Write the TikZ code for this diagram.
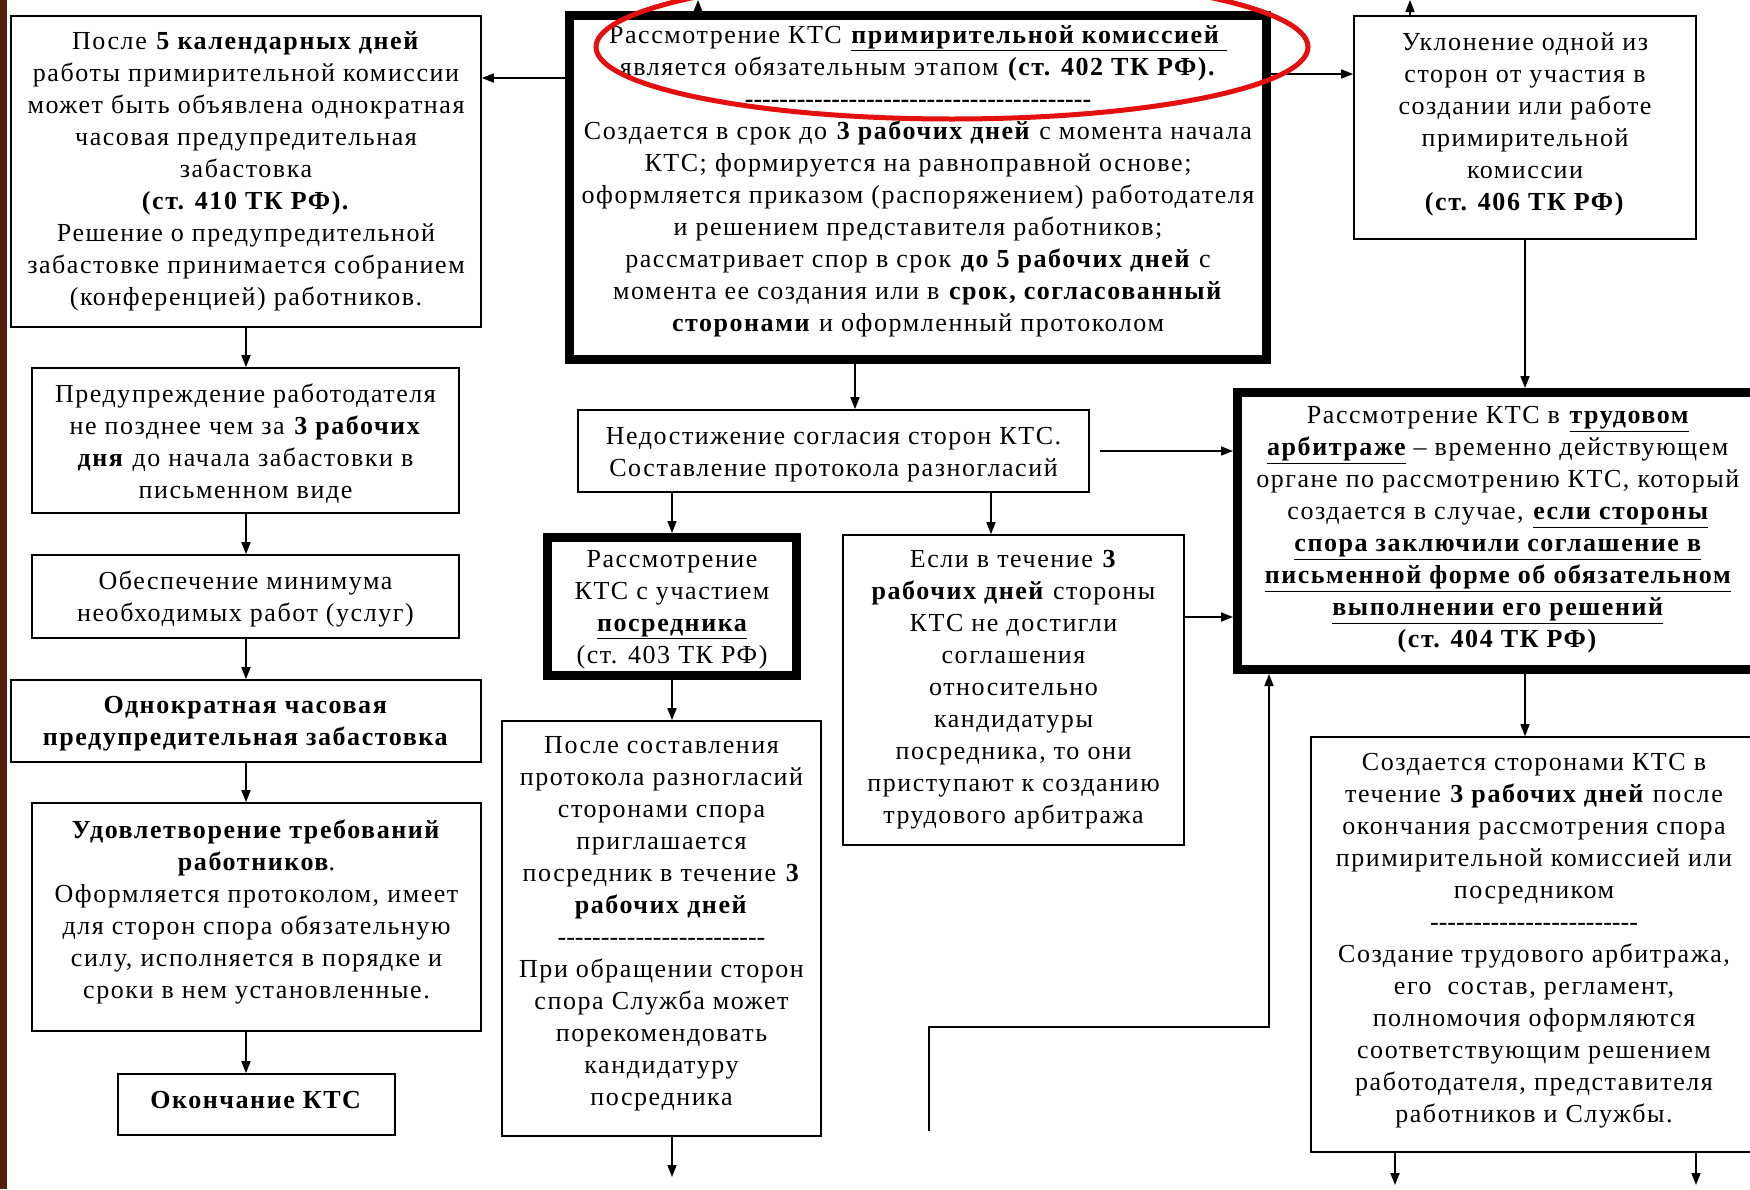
\documentclass[tikz,border=0pt]{standalone}
\usepackage{fontspec}
\setmainfont{Liberation Serif}[LetterSpace=6]
\usetikzlibrary{arrows.meta}
\ExplSyntaxOn
\NewDocumentCommand\hyrow{m}{\prg_replicate:nn{#1}{-\kern0pt}}
\ExplSyntaxOff
\definecolor{stripbrown}{RGB}{85,32,10}
\definecolor{ovalred}{RGB}{228,16,16}
\begin{document}
\begin{tikzpicture}[x=1pt,y=-1pt,
  box/.style={draw, line width=1.6pt, inner sep=0pt},
  thickbox/.style={box, line width=9pt},
  txt/.style={inner sep=0pt, align=center, font=\fontsize{26}{32}\selectfont},
  arr/.style={-{Triangle[length=12pt,width=9pt]}, line width=1.6pt}]
\clip (0,0) rectangle (1750,1189);
\fill[white] (0,0) rectangle (1750,1189);
\fill[stripbrown] (0,0) rectangle (7,1189);

% ---------- boxes ----------
\node[box, minimum width=470pt, minimum height=311pt] (box1) at (246,171.5) {};
\node[box, minimum width=427pt, minimum height=145pt] (predupr) at (245.5,440.5) {};
\node[box, minimum width=427pt, minimum height=83pt] (obesp) at (245.5,596.5) {};
\node[box, minimum width=470pt, minimum height=82pt] (odnokr) at (246,721) {};
\node[box, minimum width=449pt, minimum height=228pt] (udovl) at (256.5,917) {};
\node[box, minimum width=277pt, minimum height=61pt] (okonch) at (256.5,1104.5) {};
\node[thickbox, minimum width=697pt, minimum height=344pt] (main) at (918,187.5) {};
\node[box, minimum width=342pt, minimum height=223pt] (uklon) at (1525,127.5) {};
\node[box, minimum width=511pt, minimum height=82pt] (nedost) at (833.5,451) {};
\node[thickbox, minimum width=249pt, minimum height=138pt] (posred) at (672,606.5) {};
\node[box, minimum width=341pt, minimum height=310pt] (esli) at (1013.5,690) {};
\node[box, minimum width=319pt, minimum height=415pt] (poslesost) at (661.5,928.5) {};
\node[thickbox, minimum width=520.5pt, minimum height=277pt] (arbitr) at (1497.75,531) {};
\node[box, minimum width=446pt, minimum height=415pt] (sozd) at (1534,944.5) {};

% ---------- texts ----------
\node[txt] (box1T) at (box1.center)
 {После \textbf{5 календарных дней}\\
  работы примирительной комиссии\\
  может быть объявлена однократная\\
  часовая предупредительная\\
  забастовка\\
  \textbf{(ст. 410 ТК РФ).}\\
  Решение о предупредительной\\
  забастовке принимается собранием\\
  (конференцией) работников.};
\node[txt] (preduprT) at ([yshift=-3pt]predupr.center)
 {Предупреждение работодателя\\
  не позднее чем за \textbf{3 рабочих}\\
  \textbf{дня} до начала забастовки в\\
  письменном виде};
\node[txt] (obespT) at ([yshift=-2pt]obesp.center)
 {Обеспечение минимума\\
  необходимых работ (услуг)};
\node[txt] (odnokrT) at ([yshift=-3pt]odnokr.center)
 {\textbf{Однократная часовая}\\
  \textbf{предупредительная забастовка}};
\node[txt] (udovlT) at ([yshift=5.5pt]udovl.center)
 {\textbf{Удовлетворение требований}\\
  \textbf{работников}.\\
  Оформляется протоколом, имеет\\
  для сторон спора обязательную\\
  силу, исполняется в порядке и\\
  сроки в нем установленные.};
\node[txt] (okonchT) at ([yshift=4.5pt]okonch.center)
 {\textbf{Окончание КТС}};
\node[txt] (mainT) at ([yshift=6.5pt]main.center)
 {Рассмотрение КТС \textbf{\underline{примирительной комиссией }}\\
  является обязательным этапом \textbf{(ст. 402 ТК РФ).}\\
  \textbf{\hyrow{40}}\\
  Создается в срок до \textbf{3 рабочих дней} с момента начала\\
  КТС; формируется на равноправной основе;\\
  оформляется приказом (распоряжением) работодателя\\
  и решением представителя работников;\\
  рассматривает спор в срок \textbf{до 5 рабочих дней} с\\
  момента ее создания или в \textbf{срок, согласованный}\\
  \textbf{сторонами} и оформленный протоколом};
\node[txt] (uklonT) at ([yshift=3.3pt]uklon.center)
 {Уклонение одной из\\
  сторон от участия в\\
  создании или работе\\
  примирительной\\
  комиссии\\
  \textbf{(ст. 406 ТК РФ)}};
\node[txt] (nedostT) at ([yshift=-3.3pt]nedost.center)
 {Недостижение согласия сторон КТС.\\
  Составление протокола разногласий};
\node[txt] (posredT) at ([yshift=-3.3pt]posred.center)
 {Рассмотрение\\
  КТС с участием\\
  \textbf{\underline{посредника}}\\
  (ст. 403 ТК РФ)};
\node[txt] (esliT) at (esli.center)
 {Если в течение \textbf{3}\\
  \textbf{рабочих дней} стороны\\
  КТС не достигли\\
  соглашения\\
  относительно\\
  кандидатуры\\
  посредника, то они\\
  приступают к созданию\\
  трудового арбитража};
\node[txt] (poslesostT) at ([yshift=4.5pt]poslesost.center)
 {После составления\\
  протокола разногласий\\
  сторонами спора\\
  приглашается\\
  посредник в течение \textbf{3}\\
  \textbf{рабочих дней}\\
  \hyrow{24}\\
  При обращении сторон\\
  спора Служба может\\
  порекомендовать\\
  кандидатуру\\
  посредника};
\node[txt] (arbitrT) at ([yshift=1pt]arbitr.center)
 {Рассмотрение КТС в \textbf{\underline{трудовом}}\\
  \textbf{\underline{арбитраже}} – временно действующем\\
  органе по рассмотрению КТС, который\\
  создается в случае, \textbf{\underline{если стороны}}\\
  \textbf{\underline{спора заключили соглашение в}}\\
  \textbf{\underline{письменной форме об обязательном}}\\
  \textbf{\underline{выполнении его решений}}\\
  \textbf{(ст. 404 ТК РФ)}};
\node[txt] (sozdT) at ([yshift=4pt]sozd.center)
 {Создается сторонами КТС в\\
  течение \textbf{3 рабочих дней} после\\
  окончания рассмотрения спора\\
  примирительной комиссией или\\
  посредником\\
  \hyrow{24}\\
  Создание трудового арбитража,\\
  его\ \ состав, регламент,\\
  полномочия оформляются\\
  соответствующим решением\\
  работодателя, представителя\\
  работников и Службы.};

% ---------- helper coordinates ----------
\coordinate (cl) at (246,0);
\coordinate (yA) at (0,78);
\coordinate (yB) at (0,74);
\coordinate (t1) at (698,0);
\coordinate (t2) at (1410,0);
\coordinate (xM) at (855,0);
\coordinate (xP) at (672,0);
\coordinate (xE) at (991,0);
\coordinate (yE) at (0,617);
\coordinate (endP) at (672,1177);
\coordinate (fs) at (929,1131);
\coordinate (cor) at (1269,1027);
\coordinate (xU) at (1525,0);
\coordinate (endS1) at (1395,1185);
\coordinate (endS2) at (1696,1185);

% ---------- connectors ----------
\draw[arr] (main.west |- yA) -- (box1.east |- yA);
\draw[arr] (main.east |- yB) -- (uklon.west |- yB);
\draw[arr] (main.north -| t1) -- (t1);
\draw[arr] (uklon.north -| t2) -- (t2);
\draw[arr] (box1.south -| cl) -- (predupr.north -| cl);
\draw[arr] (predupr.south -| cl) -- (obesp.north -| cl);
\draw[arr] (obesp.south -| cl) -- (odnokr.north -| cl);
\draw[arr] (odnokr.south -| cl) -- (udovl.north -| cl);
\draw[arr] (udovl.south -| cl) -- (okonch.north -| cl);
\draw[arr] (main.south -| xM) -- (nedost.north -| xM);
\draw[arr] (nedost.south -| xP) -- (posred.north -| xP);
\draw[arr] (nedost.south -| xE) -- (esli.north -| xE);
\draw[arr] ([xshift=10pt]nedost.east) -- (arbitr.west |- nedost.east);
\draw[arr] (esli.east |- yE) -- (arbitr.west |- yE);
\draw[arr] (posred.south -| xP) -- (poslesost.north -| xP);
\draw[arr] (poslesost.south -| endP) -- (endP);
\draw[arr] (fs) |- (cor) -- (arbitr.south -| cor);
\draw[arr] (uklon.south -| xU) -- (arbitr.north -| xU);
\draw[arr] (arbitr.south -| xU) -- (sozd.north -| xU);
\draw[arr] (sozd.south -| endS1) -- (endS1);
\draw[arr] (sozd.south -| endS2) -- (endS2);

% ---------- red oval ----------
\draw[ovalred, line width=5pt] (952,47) ellipse [x radius=356pt, y radius=72pt];
\end{tikzpicture}
\end{document}
